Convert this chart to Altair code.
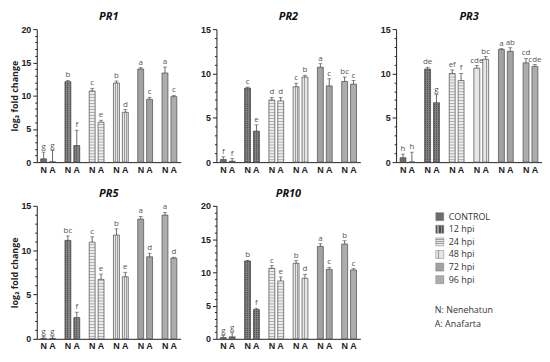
import altair as alt
import pandas as pd

groups = ["CONTROL", "12 hpi", "24 hpi", "48 hpi", "72 hpi", "96 hpi"]
cultivars = ["N", "A"]

# order: CONTROL N, CONTROL A, 12 N, 12 A, 24 N, 24 A, 48 N, 48 A, 72 N, 72 A, 96 N, 96 A
pr1_values = [0.5, 0.05, 12.1, 2.5, 10.7, 6.0, 11.9, 7.5, 14.0, 9.45, 13.4, 9.85]
pr1_errors = [1.0, 1.7, 0.2, 2.3, 0.4, 0.3, 0.3, 0.4, 0.2, 0.3, 0.9, 0.2]
pr1_letters = ["g", "g", "b", "f", "c", "e", "b", "d", "a", "c", "a", "c"]

pr2_values = [0.3, 0.1, 8.35, 3.5, 7.0, 6.9, 8.5, 9.6, 10.7, 8.6, 9.1, 8.8]
pr2_errors = [0.3, 0.3, 0.1, 0.7, 0.3, 0.4, 0.4, 0.2, 0.4, 0.8, 0.5, 0.4]
pr2_letters = ["f", "f", "c", "e", "d", "d", "c", "b", "a", "c", "bc", "c"]

pr3_values = [0.5, 0.02, 10.5, 6.7, 10.0, 9.2, 10.6, 11.6, 12.7, 12.5, 11.2, 10.8]
pr3_errors = [0.4, 1.1, 0.2, 0.9, 0.4, 0.8, 0.3, 0.3, 0.1, 0.4, 0.5, 0.2]
pr3_letters = ["h", "h", "de", "g", "ef", "f", "cde", "bc", "a", "ab", "cd", "cde"]

pr5_values = [0.03, 0.03, 11.1, 2.4, 10.9, 6.7, 11.7, 7.0, 13.5, 9.25, 13.95, 9.1]
pr5_errors = [0.2, 0.2, 0.5, 0.6, 0.6, 0.6, 0.7, 0.5, 0.3, 0.4, 0.3, 0.1]
pr5_letters = ["g", "g", "bc", "f", "c", "e", "b", "e", "a", "d", "a", "d"]

pr10_values = [0.2, 0.3, 11.7, 4.4, 10.6, 8.7, 11.35, 9.1, 13.9, 10.45, 14.25, 10.35]
pr10_errors = [0.3, 0.6, 0.1, 0.2, 0.4, 0.6, 0.4, 0.6, 0.4, 0.3, 0.5, 0.2]
pr10_letters = ["g", "g", "b", "f", "c", "e", "b", "d", "a", "c", "b", "c"]

note_labels = ["N: Nenehatun", "A: Anafarta"]

FONT = "Open Sans"
AXFONT = "Liberation Sans"


def stripes(direction, c1, c2, bands):
    """Hard-stop linear gradient: bands is a list of (start, end) for c2."""
    stops = []
    pos = 0.0
    for a, b in bands:
        stops += [{"offset": pos, "color": c1}, {"offset": a, "color": c1},
                  {"offset": a, "color": c2}, {"offset": b, "color": c2}]
        pos = b
    stops += [{"offset": pos, "color": c1}, {"offset": 1, "color": c1}]
    if direction == "v":  # vertical lines
        return {"gradient": "linear", "x1": 0, "y1": 0, "x2": 1, "y2": 0, "stops": stops}
    return {"gradient": "linear", "x1": 0, "y1": 0, "x2": 0, "y2": 1, "stops": stops}


bar_fills = {
    "CONTROL": "#6c6c6c",
    "12 hpi": stripes("v", "#505050", "#7e7e7e", [(0.2, 0.4), (0.6, 0.8)]),
    "24 hpi": "#ececec",
    "48 hpi": stripes("v", "#e6e6e6", "#9c9c9c", [(0.3, 0.42), (0.62, 0.74)]),
    "72 hpi": "#a2a2a2",
    "96 hpi": "#adadad",
}

legend_fills = {
    "CONTROL": "#6c6c6c",
    "12 hpi": stripes("v", "#4e4e4e", "#9a9a9a", [(0.2, 0.4), (0.6, 0.8)]),
    "24 hpi": stripes("h", "#ececec", "#9a9a9a", [(0.2, 0.3), (0.45, 0.55), (0.7, 0.8)]),
    "48 hpi": stripes("v", "#e6e6e6", "#9a9a9a", [(0.3, 0.4), (0.6, 0.7)]),
    "72 hpi": "#a2a2a2",
    "96 hpi": "#adadad",
}


def panel(name, values, errors, letters, ymax, ytitle, width):
    df = pd.DataFrame({
        "group": [g for g in groups for _ in cultivars],
        "cultivar": cultivars * len(groups),
        "value": values,
        "err": errors,
        "letter": letters,
    })
    df["top"] = df["value"] + df["err"]

    xenc = alt.X(
        "group:N", sort=groups, title=None,
        scale=alt.Scale(paddingInner=0.39, paddingOuter=0.16),
        axis=alt.Axis(labelExpr="'N A'", labelAngle=0, ticks=False,
                      labelPadding=3, domainColor="#222", domainWidth=1),
    )
    xoff = alt.XOffset("cultivar:N", sort=cultivars,
                       scale=alt.Scale(paddingInner=0.333, paddingOuter=0))
    yscale = alt.Scale(domain=[0, ymax], nice=False)
    yaxis = alt.Axis(
        values=list(range(0, ymax + 1)),
        labelExpr="datum.value % 5 === 0 ? datum.label : ''",
        tickSize={"condition": {"test": "datum.value % 5 === 0", "value": 4}, "value": 2},
        grid=False, labelPadding=2, domainColor="#222", domainWidth=1,
        title=ytitle, titlePadding=1,
    )

    def Y(field):
        return alt.Y(field, type="quantitative", scale=yscale, axis=yaxis)

    base = alt.Chart(df).encode(x=xenc, xOffset=xoff)
    layers = []
    for g in groups:
        layers.append(
            base.transform_filter(alt.datum.group == g)
            .mark_bar(fill=bar_fills[g], strokeWidth=0)
            .encode(y=Y("value"))
        )
    # horizontal stripe lines for 24 hpi and checker rows for 12 hpi
    for g, step, col, th in [("24 hpi", ymax / 45.0, "#8c8c8c", 0.6),
                             ("12 hpi", ymax / 70.0, "#8a8a8a", 0.7)]:
        layers.append(
            base.transform_filter(alt.datum.group == g)
            .transform_calculate(s=f"sequence({step * 0.8}, datum.value, {step})")
            .transform_flatten(["s"])
            .mark_tick(color=col, thickness=th, size=6, opacity=1)
            .encode(y=Y("s"))
        )
    layers.append(
        base.mark_bar(fillOpacity=0, stroke="#4a4a4a", strokeWidth=0.7).encode(y=Y("value"))
    )
    layers.append(
        base.mark_rule(color="#444", strokeWidth=0.8).encode(y=Y("value"), y2="top")
    )
    layers.append(
        base.mark_tick(color="#444", size=4, thickness=0.8).encode(y=Y("top"))
    )
    layers.append(
        base.mark_text(dy=-5, fontSize=8, color="#555", font=FONT)
        .encode(y=Y("top"), text="letter:N")
    )
    return alt.layer(*layers).properties(
        width=width, height=134,
        title=alt.Title(name, fontStyle="italic", fontWeight="bold", fontSize=11,
                        font=FONT, offset=3, color="#111"),
    )


ytitle = "log\u2082 fold change"
p1 = panel("PR1", pr1_values, pr1_errors, pr1_letters, 20, ytitle, 145)
p2 = panel("PR2", pr2_values, pr2_errors, pr2_letters, 15, None, 145)
p3 = panel("PR3", pr3_values, pr3_errors, pr3_letters, 15, None, 147)
p5 = panel("PR5", pr5_values, pr5_errors, pr5_letters, 15, ytitle, 145)
p10 = panel("PR10", pr10_values, pr10_errors, pr10_letters, 20, None, 145)

# legend panel
leg_df = pd.DataFrame({"label": groups, "row": list(range(len(groups)))})
note_df = pd.DataFrame({"label": note_labels, "row": [7.42, 8.52]})
ly = alt.Y("row:Q", scale=alt.Scale(domain=[-0.86, 9.69], nice=False, zero=False, reverse=True),
           axis=None)
leg_layers = []
for i, g in enumerate(groups):
    leg_layers.append(
        alt.Chart(leg_df).transform_filter(alt.datum.label == g)
        .mark_square(size=64, fill=legend_fills[g], fillOpacity=1, stroke="#777",
                     strokeWidth=0.5, shape="square")
        .encode(x=alt.value(61), y=ly)
    )
leg_layers.append(
    alt.Chart(leg_df).mark_text(align="left", fontSize=9, font=FONT, color="#333")
    .encode(x=alt.value(70), y=ly, text="label:N")
)
leg_layers.append(
    alt.Chart(note_df).mark_text(align="left", fontSize=9, font=FONT, color="#333")
    .encode(x=alt.value(56), y=ly, text="label:N")
)
legend_panel = alt.layer(*leg_layers).properties(width=140, height=134)

row1 = alt.hconcat(p1, p2, p3, spacing=19)
row2 = alt.hconcat(p5, p10, legend_panel, spacing=19)
chart = alt.vconcat(row1, row2, spacing=14).properties(
    padding={"left": 2, "top": 2, "right": 0, "bottom": 0}
).configure_view(
    stroke=None
).configure_axis(
    labelFont=AXFONT, labelFontWeight="bold", labelFontSize=9, labelColor="#222",
    tickColor="#222", titleFont=FONT, titleFontWeight="bold", titleFontSize=9,
    titleColor="#222",
)

chart.save("out.html", embed_options={"renderer": "svg", "actions": False})
